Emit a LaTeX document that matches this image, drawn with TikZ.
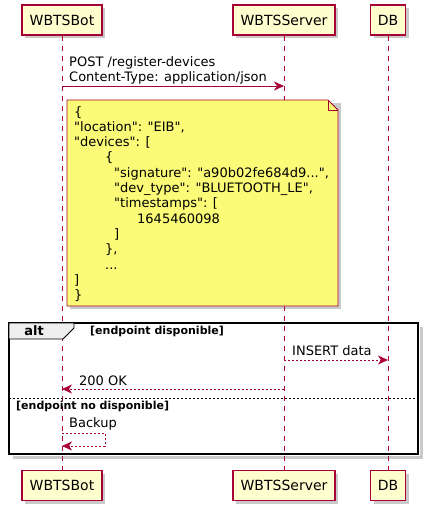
\documentclass[tikz,border=0pt]{standalone}
\usepackage{fontspec}
\setmainfont{DejaVu Sans}[Ligatures=TeXOff]
\usetikzlibrary{arrows.meta,shadows}
\definecolor{umlred}{HTML}{A80036}
\definecolor{umlbox}{HTML}{FEFECE}
\definecolor{umlnote}{HTML}{FBFB77}
\definecolor{umltab}{HTML}{EEEEEE}

\begin{document}
\begin{tikzpicture}[x=1pt,y=-1pt,
	actor/.style={draw=umlred,fill=umlbox,line width=1.2pt,minimum height=30pt,inner sep=0pt,font=\fontsize{14}{16}\selectfont,
		drop shadow={fill=black!60,opacity=0.35,shadow xshift=3pt,shadow yshift=-3pt}},
	lifeline/.style={umlred,line width=0.8pt,dash pattern=on 5pt off 5pt},
	msg/.style={umlred,line width=0.8pt,-{Stealth[length=10pt,width=9pt,inset=3pt]}},
	reply/.style={msg,dash pattern=on 2pt off 2pt},
	txt/.style={inner sep=0pt,anchor=west,font=\fontsize{13}{15.3}\selectfont},
	cond/.style={inner sep=0pt,anchor=west,font=\fontsize{11}{13}\selectfont\bfseries}]
				\useasboundingbox (0,0) rectangle (431,513);
				% Participants
				\node[actor,minimum width=80pt] (bot) at (62,20) {WBTSBot};
				\node[actor,minimum width=102pt] (srv) at (284,20) {WBTSServer};
				\node[actor,minimum width=35pt] (db) at (388,20) {DB};
				\node[actor,minimum width=80pt] (botB) at (62,485.5) {WBTSBot};
				\node[actor,minimum width=102pt] (srvB) at (284,485.5) {WBTSServer};
				\node[actor,minimum width=35pt] (dbB) at (388,485.5) {DB};
				\draw[lifeline] (bot) -- (botB);
				\draw[lifeline] (srv) -- (srvB);
				\draw[lifeline] (db) -- (dbB);
				% Requete
				\draw[msg] (bot |- 0,86) -- (srv |- 0,86);
				\node[txt,anchor=south west,align=left] (post) at (69,84.5) {POST /register-devices\\Content-Type: application/json};
				% Note
				\fill[black!60,opacity=0.35] (70,103) rectangle (341,309);
				\filldraw[draw=umlred,fill=umlnote,line width=0.8pt] (67,100) -- (328,100) -- (338,110) -- (338,306) -- (67,306) -- cycle;
				\draw[umlred,line width=0.8pt] (328,100) -- (328,110) -- (338,110);
				\node[txt,anchor=north west,align=left] (json) at (74,106) {\{\\
					"location": "EIB",\\
					"devices": [\\
					\hspace*{31pt}\{\\
					\hspace*{40pt}"signature": "a90b02fe684d9...",\\
					\hspace*{40pt}"dev\_type": "BLUETOOTH\_LE",\\
					\hspace*{40pt}"timestamps": [\\
					\hspace*{63pt}1645460098\\
					\hspace*{40pt}]\\
					\hspace*{31pt}\},\\
					\hspace*{31pt}...\\
					]\\
					\}};
				% Alt
				\draw[black!60,opacity=0.35,line width=3pt] (421,327) -- (421,457) -- (13,457);
				\draw[line width=1.5pt] (9,323) rectangle (418,454);
				\filldraw[fill=umltab,line width=0.8pt] (9,323) -- (74,323) -- (74,328) -- (63,339) -- (9,339) -- cycle;
				\node[font=\fontsize{13}{15}\selectfont\bfseries,inner sep=0pt] (alt) at (34,331) {alt};
				\node[cond] (ok) at (90,331) {[endpoint disponible]};
				\draw[reply] (srv |- 0,360) -- (db |- 0,360);
				\node[txt] (ins) at (292,351) {INSERT data};
				\draw[reply] (srv |- 0,389) -- (bot |- 0,389);
				\node[txt] (rep) at (79,381) {200 OK};
				\draw[dash pattern=on 2pt off 2pt,line width=0.6pt] (9,398) -- (418,398);
				\node[cond] (ko) at (16,406) {[endpoint no disponible]};
				\node[txt] (bk) at (69,424) {Backup};
				\draw[reply] (bot |- 0,433) -- (105,433) -- (105,446) -- (bot |- 0,446);
				\end{tikzpicture}
\end{document}
